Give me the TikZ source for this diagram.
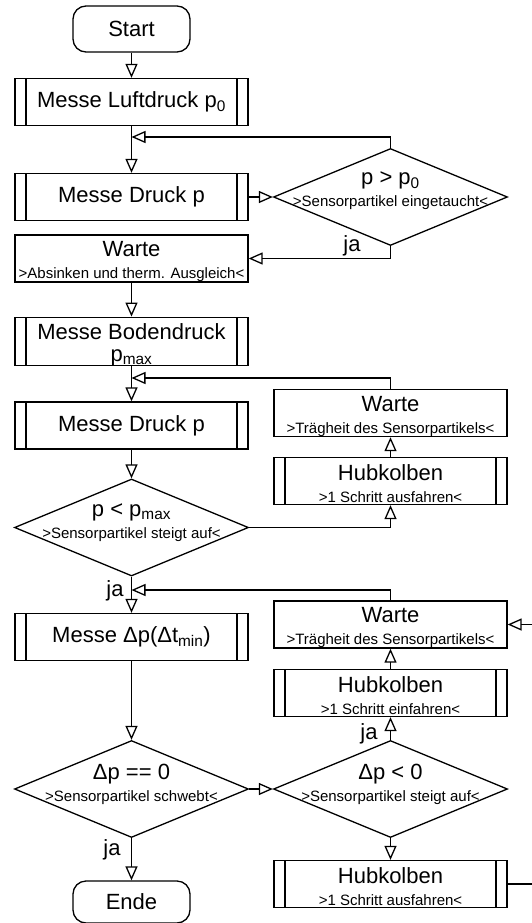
\documentclass[tikz,border=0pt]{standalone}
\usepackage{fontspec}
\setmainfont{Liberation Sans}
\usetikzlibrary{shapes.geometric,arrows.meta}
\begin{document}
\begin{tikzpicture}[x=1pt,y=-1pt,line width=1.3pt,
  font=\fontsize{15}{22}\selectfont,
  box/.style={draw,minimum width=233,minimum height=47,inner sep=0,align=center},
  sub/.style={box,path picture={
    \draw ([xshift=11pt]path picture bounding box.north west) -- ([xshift=11pt]path picture bounding box.south west);
    \draw ([xshift=-11pt]path picture bounding box.north east) -- ([xshift=-11pt]path picture bounding box.south east);}},
  zwei/.style={text height=44},
  term/.style={draw,rounded corners=13pt,minimum width=117,minimum height=46,inner sep=0},
  dec/.style={draw,diamond,minimum width=234,minimum height=97,inner sep=0},
  flow/.style={-{Triangle[open,length=14pt,width=12pt]}},
  ja/.style={inner sep=0}]
\newcommand\gr{\fontsize{22}{24}\selectfont}
\newcommand\kl{\fontsize{15}{22}\selectfont}
\useasboundingbox (0,0) rectangle (532,923);
% linke Spalte
\node[term] (1) at (131.5,29) {\gr Start};
\node[sub] (2) at (131.5,102) {\gr Messe Luftdruck p\textsubscript{0}};
\node[sub] (3) at (131.5,197) {\gr Messe Druck p};
\node[box,zwei] (5) at (131.5,258.5) {{\gr Warte}\\{\kl >Absinken und therm. Ausgleich<}};
\node[sub,zwei] (6) at (131.5,341.5) {{\gr Messe Bodendruck}\\{\gr p\textsubscript{max}}};
\node[sub] (7) at (131.5,425.5) {\gr Messe Druck p};
\node[dec,label={[align=center,yshift=5]center:{{\gr p < p\textsubscript{max}}\\{\kl >Sensorpartikel steigt auf<}}}] (10) at (131.5,527.5) {};
\node[sub] (11) at (131.5,637) {\gr Messe Δp(Δt\textsubscript{min})};
\node[dec,label={[align=center,yshift=5]center:{{\gr Δp == 0}\\{\kl >Sensorpartikel schwebt<}}}] (14) at (131.5,789) {};
\node[term,minimum height=42] (17) at (131.5,902) {\gr Ende};
% rechte Spalte
\node[dec,label={[align=center,yshift=6]center:{{\gr p > p\textsubscript{0}}\\{\kl >Sensorpartikel eingetaucht<}}}] (4) at (390.5,197) {};
\node[box,zwei] (8) at (390.5,413) {{\gr Warte}\\{\kl >Trägheit des Sensorpartikels<}};
\node[sub,zwei] (9) at (390.5,481) {{\gr Hubkolben}\\{\kl >1 Schritt ausfahren<}};
\node[box,zwei] (12) at (390.5,624.5) {{\gr Warte}\\{\kl >Trägheit des Sensorpartikels<}};
\node[sub,zwei] (13) at (390.5,693) {{\gr Hubkolben}\\{\kl >1 Schritt einfahren<}};
\node[dec,label={[align=center,yshift=5]center:{{\gr Δp < 0}\\{\kl >Sensorpartikel steigt auf<}}}] (15) at (390.5,789) {};
\node[sub,zwei] (16) at (390.5,884) {{\gr Hubkolben}\\{\kl >1 Schritt ausfahren<}};
% ja
\node[ja] (j1) at (352,246) {\gr ja};
\node[ja] (j2) at (115,591) {\gr ja};
\node[ja] (j3) at (369,734) {\gr ja};
\node[ja] (j4) at (112,850) {\gr ja};
\coordinate (m1) at (131.5,137);
\coordinate (m2) at (131.5,378);
\coordinate (m3) at (131.5,590);
\coordinate (r) at (536,0);
\draw[flow] (1) -- (2);
\draw[flow] (2) -- (3);
\draw[flow] (4.north) |- (m1);
\draw[flow] (3) -- (4);
\draw[flow] (4.south) |- (5.east);
\draw[flow] (5) -- (6);
\draw[flow] (6) -- (7);
\draw[flow] (8.north) |- (m2);
\draw[flow] (9) -- (8);
\draw[flow] (7) -- (10);
\draw[flow] (10.east) -| (9.south);
\draw[flow] (10.south) -- (11.north);
\draw[flow] (12.north) |- (m3);
\draw[flow] (13) -- (12);
\draw[flow] (11) -- (14);
\draw[flow] (14) -- (15);
\draw[flow] (15) -- (13);
\draw[flow] (15) -- (16);
\draw[flow] (14) -- (17);
\draw[flow] (16.east) -- (16.east -| r) |- (12.east);
\end{tikzpicture}
\end{document}
